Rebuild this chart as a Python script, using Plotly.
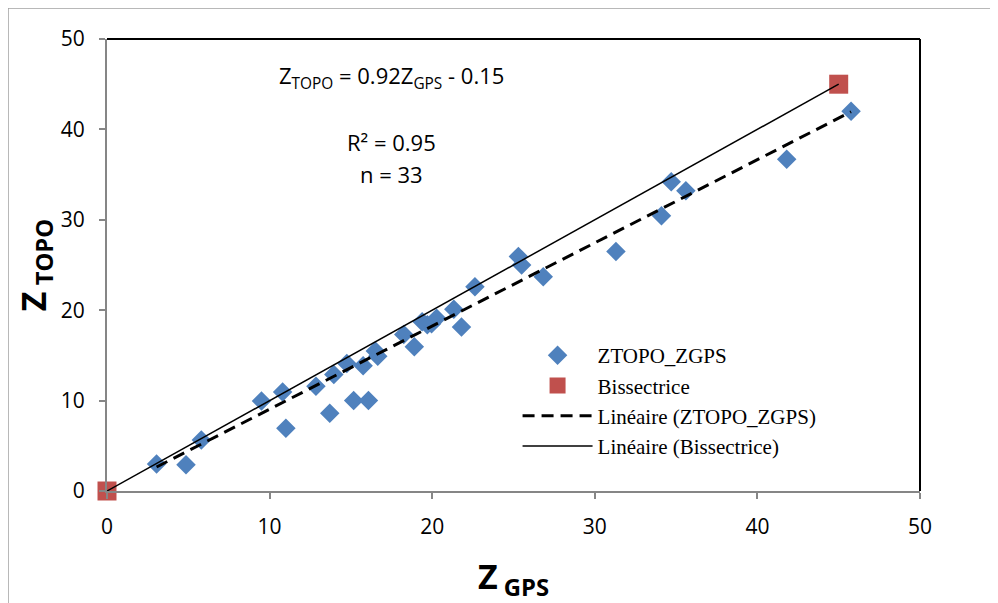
import plotly.graph_objects as go

# ---- data ----
z_gps = [3.05, 4.86, 5.8, 9.5, 10.8, 11.0, 12.85, 13.7, 13.95, 14.75, 15.17, 15.75,
         16.08, 16.5, 16.65, 18.25, 18.9, 19.38, 19.7, 19.96, 20.27, 21.33, 21.8,
         22.63, 25.3, 25.5, 26.83, 31.3, 34.1, 34.7, 35.6, 41.8, 45.76]
z_topo = [3.0, 2.9, 5.64, 9.95, 10.95, 6.95, 11.6, 8.6, 12.9, 14.1, 10.0, 13.85,
          10.0, 15.5, 14.9, 17.3, 15.95, 18.72, 18.4, 18.5, 19.1, 20.1, 18.15,
          22.6, 25.95, 25.0, 23.7, 26.5, 30.45, 34.2, 33.2, 36.7, 42.0]
bis_x = [0, 45]
bis_y = [0, 45]
slope = 0.92
intercept = -0.15
tick_vals = [0, 10, 20, 30, 40, 50]

x_min, x_max = min(z_gps), max(z_gps)
trend_x = [x_min, x_max]
trend_y = [slope * v + intercept for v in trend_x]

fig = go.Figure()
fig.add_trace(go.Scatter(x=z_gps, y=z_topo, mode="markers", name="ZTOPO_ZGPS",
                         marker=dict(symbol="diamond", size=15, color="#4F81BD"),
                         cliponaxis=False))
fig.add_trace(go.Scatter(x=bis_x, y=bis_y, mode="markers", name="Bissectrice",
                         marker=dict(symbol="square", size=19, color="#C0504D"),
                         cliponaxis=False))
fig.add_trace(go.Scatter(x=trend_x, y=trend_y, mode="lines", name="Linéaire (ZTOPO_ZGPS)",
                         line=dict(color="black", width=3, dash="12px,7px")))
fig.add_trace(go.Scatter(x=bis_x, y=bis_y, mode="lines", name="Linéaire (Bissectrice)",
                         line=dict(color="black", width=1.5), cliponaxis=False))

axis_common = dict(range=[0, 50], tickvals=tick_vals, showgrid=False, zeroline=False,
                   showline=True, linecolor="#868686", linewidth=2,
                   ticks="outside", ticklen=6, tickcolor="#868686", tickwidth=1.5,
                   ticklabelstandoff=10,
                   tickfont=dict(family="Open Sans", size=21, color="black"))

fig.update_xaxes(**axis_common,
                 title=dict(text="<b>Z<sub> GPS</sub></b>",
                            font=dict(family="Open Sans", size=34, color="black"),
                            standoff=26))
fig.update_yaxes(**axis_common,
                 title=dict(text="<b>Z<sub> TOPO</sub></b>",
                            font=dict(family="Open Sans", size=34, color="black"),
                            standoff=4))

W, H = 990, 595
L, T = 99, 31
R = W - 912
B = H - 483
pw, ph = 912 - L, 483 - T

fig.update_layout(
    width=W, height=H,
    margin=dict(l=L, r=R, t=T, b=B),
    paper_bgcolor="white", plot_bgcolor="white",
    showlegend=True,
    legend=dict(x=0.505, y=0.345, xanchor="left", yanchor="top",
                bgcolor="rgba(0,0,0,0)", itemwidth=70,
                font=dict(family="Liberation Serif", size=21, color="black"),
                tracegroupgap=0),
    shapes=[
        dict(type="line", xref="paper", yref="paper", x0=0, x1=1, y0=1, y1=1,
             line=dict(color="black", width=2)),
        dict(type="line", xref="paper", yref="paper", x0=1, x1=1, y0=0, y1=1,
             line=dict(color="black", width=2)),
        dict(type="line", xref="paper", yref="paper", x0=-L / pw, x1=2.0,
             y0=1 + T / ph, y1=1 + T / ph,
             line=dict(color="#A0A0A0", width=1.5)),
        dict(type="line", xref="paper", yref="paper", x0=-L / pw, x1=-L / pw,
             y0=-1.0, y1=1 + T / ph,
             line=dict(color="#A0A0A0", width=1.5)),
    ],
    annotations=[
        dict(x=17.5, y=45.8, xref="x", yref="y", showarrow=False,
             text="Z<sub>TOPO</sub> = 0.92Z<sub>GPS</sub> - 0.15",
             font=dict(family="Open Sans", size=22, color="black")),
        dict(x=17.5, y=38.6, xref="x", yref="y", showarrow=False,
             text="R² = 0.95",
             font=dict(family="Open Sans", size=22, color="black")),
        dict(x=17.5, y=35.1, xref="x", yref="y", showarrow=False,
             text="n = 33",
             font=dict(family="Open Sans", size=22, color="black")),
    ],
)

fig.write_html("out.html")
